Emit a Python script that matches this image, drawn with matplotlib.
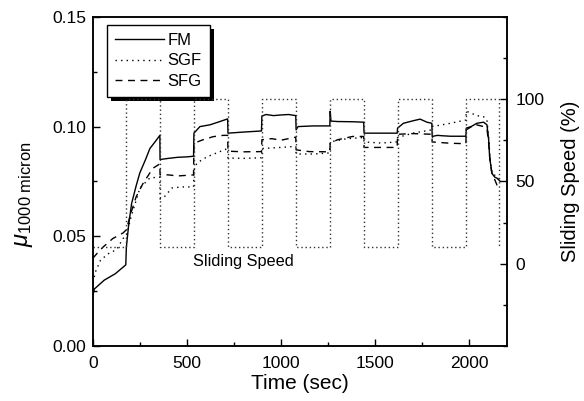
import numpy as np
import matplotlib
matplotlib.use('Agg')
import matplotlib.pyplot as plt
from matplotlib.ticker import MultipleLocator
from matplotlib.patches import Rectangle

plt.rcParams['font.family'] = ['Liberation Sans', 'DejaVu Sans']
plt.rcParams['mathtext.fontset'] = 'custom'
plt.rcParams['mathtext.rm'] = 'Liberation Sans'
plt.rcParams['mathtext.it'] = 'Liberation Sans:italic'

# sliding speed square wave (%)
speed_time = [0, 178, 178, 357, 357, 537, 537, 718, 718, 898, 898, 1080, 1080,
              1261, 1261, 1441, 1441, 1619, 1619, 1803, 1803, 1984, 1984, 2160, 2160]
speed_pct = [10, 10, 100, 100, 10, 10, 100, 100, 10, 10, 100, 100, 10,
             10, 100, 100, 10, 10, 100, 100, 10, 10, 100, 100, 10]

# friction coefficient, FM
fm_time = [0, 8, 60, 120, 175, 178, 190, 206, 230, 250, 280, 303, 330, 356,
           357, 400, 450, 500, 535, 537, 569, 622, 675, 716, 718, 800, 896,
           898, 920, 960, 1000, 1040, 1078, 1080, 1090, 1170, 1259, 1261, 1265,
           1300, 1380, 1439, 1441, 1530, 1617, 1619, 1650, 1704, 1739, 1775,
           1801, 1803, 1830, 1860, 1900, 1982, 1984, 2010, 2040, 2076, 2094,
           2103, 2108, 2120, 2135, 2147, 2165]
fm_mu = [0.023, 0.026, 0.030, 0.033, 0.037, 0.045, 0.055, 0.065, 0.073, 0.079,
         0.085, 0.090, 0.093, 0.096, 0.085, 0.0855, 0.086, 0.0862, 0.0865,
         0.097, 0.100, 0.1008, 0.1023, 0.1035, 0.097, 0.0975, 0.098, 0.1048,
         0.1055, 0.1050, 0.1053, 0.1055, 0.1050, 0.0985, 0.1000, 0.1003,
         0.1003, 0.107, 0.1025, 0.1023, 0.1022, 0.1020, 0.0970, 0.0970, 0.0970,
         0.0993, 0.1015, 0.1027, 0.1034, 0.1020, 0.1015, 0.0955, 0.0960,
         0.0958, 0.0956, 0.0956, 0.0993, 0.1000, 0.1015, 0.1020, 0.1008,
         0.094, 0.0863, 0.0787, 0.077, 0.0765, 0.075]

# SGF
sgf_time = [0, 15, 40, 80, 127, 160, 178, 200, 250, 303, 356, 357, 380, 420,
            470, 535, 537, 553, 606, 675, 716, 718, 800, 896, 898, 1000, 1078,
            1080, 1170, 1259, 1261, 1350, 1439, 1441, 1530, 1617, 1619, 1700,
            1801, 1803, 1900, 1982, 1984, 2000, 2040, 2076, 2094, 2103, 2110,
            2120, 2147, 2165]
sgf_mu = [0.029, 0.034, 0.039, 0.042, 0.044, 0.049, 0.050, 0.058, 0.072,
          0.0766, 0.077, 0.067, 0.068, 0.072, 0.0725, 0.0725, 0.080, 0.0834,
          0.0862, 0.0886, 0.090, 0.0857, 0.0855, 0.0858, 0.090, 0.0905, 0.091,
          0.0875, 0.0875, 0.088, 0.093, 0.0945, 0.095, 0.093, 0.0925, 0.093,
          0.095, 0.097, 0.0985, 0.100, 0.1015, 0.103, 0.107, 0.1065, 0.105,
          0.1045, 0.103, 0.095, 0.086, 0.079, 0.077, 0.076]

# SFG
sfg_time = [0, 20, 53, 106, 160, 178, 200, 230, 266, 319, 356, 357, 400, 450,
            535, 537, 585, 639, 692, 716, 718, 800, 896, 898, 950, 1000, 1078,
            1080, 1150, 1259, 1261, 1300, 1380, 1439, 1441, 1530, 1617, 1619,
            1700, 1801, 1803, 1900, 1982, 1984, 2030, 2076, 2094, 2103, 2110,
            2120, 2147, 2165]
sfg_mu = [0.040, 0.042, 0.045, 0.049, 0.0515, 0.053, 0.060, 0.068, 0.074,
          0.081, 0.083, 0.078, 0.078, 0.0775, 0.078, 0.0924, 0.094, 0.0954,
          0.096, 0.096, 0.0888, 0.0885, 0.0886, 0.094, 0.0945, 0.0938, 0.0952,
          0.0894, 0.0886, 0.0885, 0.0924, 0.094, 0.0955, 0.0955, 0.0905,
          0.0905, 0.0905, 0.0965, 0.0968, 0.0965, 0.093, 0.0924, 0.0922,
          0.0985, 0.101, 0.100, 0.099, 0.0924, 0.085, 0.079, 0.0734, 0.073]

fig = plt.figure(figsize=(5.84, 4.01), dpi=100)
ax = fig.add_axes([0.159, 0.137, 0.709, 0.821])
ax2 = ax.twinx()

ax.plot(fm_time, fm_mu, color='black', lw=1.0, label='FM')
ax.plot(sgf_time, sgf_mu, color='black', lw=1.0, ls=(0, (1, 3)), label='SGF')
ax.plot(sfg_time, sfg_mu, color='black', lw=1.0, ls=(0, (5, 4)), label='SFG')

ax2.plot(speed_time, speed_pct, color='#333333', lw=1.0, ls=(0, (1, 2)))
ax2.text(532, 1.5, 'Sliding Speed', fontsize=11.7, ha='left', va='center')

ax.set_xlim(0, 2200)
ax.set_ylim(0, 0.15)
ax2.set_ylim(-50, 150)
ax.set_xticks([0, 500, 1000, 1500, 2000])
ax.xaxis.set_minor_locator(MultipleLocator(250))
ax.set_yticks([0.0, 0.05, 0.10, 0.15])
ax.set_yticklabels(['0.00', '0.05', '0.10', '0.15'])
ax.yaxis.set_minor_locator(MultipleLocator(0.025))
ax2.set_yticks([0, 50, 100])
ax2.yaxis.set_minor_locator(MultipleLocator(25))

ax.tick_params(axis='both', which='major', direction='in', length=5, width=1,
               labelsize=12.5)
ax.tick_params(axis='both', which='minor', direction='in', length=3, width=1)
ax.tick_params(axis='x', pad=7)
ax.tick_params(axis='y', pad=5)
ax.tick_params(top=False, which='both')
ax2.tick_params(axis='y', which='major', direction='in', length=5, width=1,
                labelsize=12.5, pad=6)
ax2.tick_params(axis='y', which='minor', direction='in', length=3, width=1)

for a in (ax, ax2):
    for s in a.spines.values():
        s.set_linewidth(1.1)

ax.set_xlabel('Time (sec)', fontsize=15, labelpad=2)
ax.set_ylabel(r'$\mu_{\mathrm{1000\ micron}}$', fontsize=17)
ax.yaxis.set_label_coords(-0.14, 0.46)
ax2.set_ylabel('Sliding Speed (%)', fontsize=14.5, labelpad=12)

leg = ax.legend(loc='upper left', bbox_to_anchor=(0.034, 0.976), fontsize=12,
                frameon=True, fancybox=False, edgecolor='black',
                handlelength=2.9, handletextpad=0.25, borderpad=0.5,
                labelspacing=0.32, borderaxespad=0.0)
leg.get_frame().set_linewidth(1.0)
leg.get_frame().set_alpha(1)
leg.set_zorder(5)

# solid drop shadow behind the legend box
fig.canvas.draw()
bb = leg.get_window_extent().transformed(ax.transAxes.inverted())
dx = 4 / (0.709 * 584)
dy = 4 / (0.821 * 401)
shadow = Rectangle((bb.x0 + dx, bb.y0 - dy), bb.width, bb.height,
                   transform=ax.transAxes, facecolor='black', edgecolor='none',
                   zorder=4)
ax.add_patch(shadow)

fig.savefig('out.png', dpi=100)
